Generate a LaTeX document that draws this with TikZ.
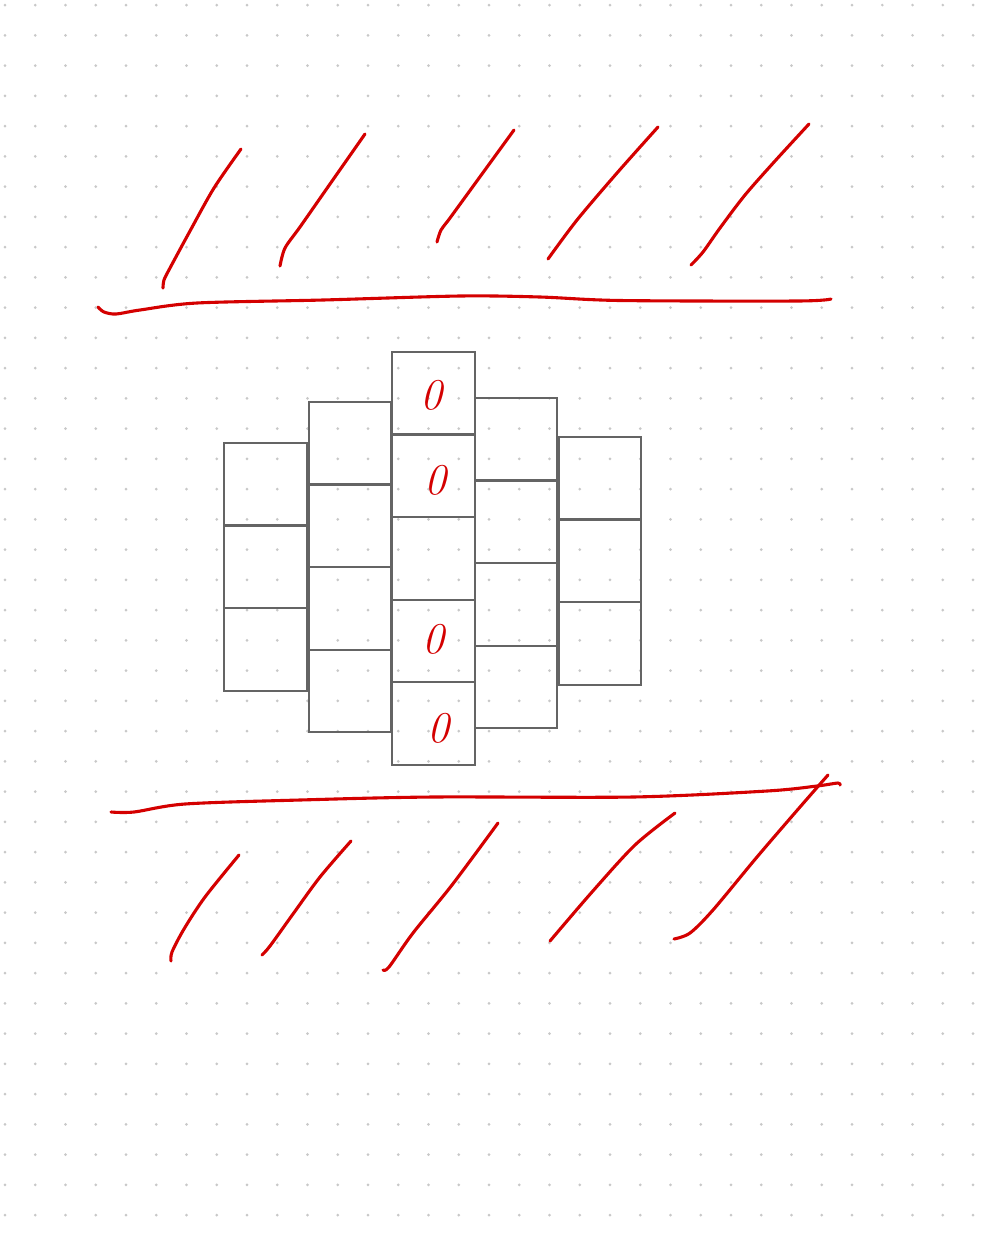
\documentclass[tikz,border=0pt]{standalone}
\usepackage{xcolor}
\usepackage{tikz}
\usetikzlibrary{positioning}
\definecolor{ink}{RGB}{212,0,0}
\definecolor{cellgray}{RGB}{100,100,100}
\definecolor{dotgray}{RGB}{200,200,200}
\tikzset{
x=0.02cm, y=-0.02cm, % one unit is one pixel of the sheet
cell/.style={draw=cellgray, line width=0.045cm, minimum size=1.652cm, inner sep=0pt, outer sep=0pt}, % one square of the block
pen/.style={draw=ink, line width=0.062cm, line cap=round, line join=round}, % the red hand strokes
zero/.style={text=ink, inner sep=0pt, font=\fontsize{25}{25}\selectfont\itshape}, % hand written digits
}

\begin{document}
\begin{tikzpicture}
        % sheet with dots
        \fill[white] (0,0) rectangle (999,1235);
        \useasboundingbox (0,0) rectangle (999,1235);
        \foreach \i in {0,...,32}
            \foreach \j in {0,...,40}
                \fill[dotgray] (5+30.25*\i, 5+30.25*\j) circle (0.03cm);

        % top wall
        \draw[pen] plot[smooth] coordinates {(98,307) (104,312) (116,314) (140,310) (197,303) (323,300) (460,296) (540,297) (620,300.5) (797,301) (831,299)};
        \draw[pen] plot[smooth] coordinates {(163,288) (164,280) (170,268) (190,231) (214,188) (241,149)};
        \draw[pen] plot[smooth] coordinates {(280,266) (285,248) (300,227) (330,184) (365,134)};
        \draw[pen] plot[smooth] coordinates {(437,242) (441,230) (450,218) (482,174) (514,130)};
        \draw[pen] plot[smooth] coordinates {(548,259) (577,220) (617,173) (658,127)};
        \draw[pen] plot[smooth] coordinates {(691,265) (703,252) (720,228) (745,195) (775,161) (809,124)};

        % block of squares
        \node[cell] (c1r1) at (265.5,484.3) {};
        \node[cell, below=0pt of c1r1] (c1r2) {};
        \node[cell, below=0pt of c1r2] (c1r3) {};
        \node[cell] (c2r1) at (350,443.3) {};
        \node[cell, below=0pt of c2r1] (c2r2) {};
        \node[cell, below=0pt of c2r2] (c2r3) {};
        \node[cell, below=0pt of c2r3] (c2r4) {};
        \node[cell] (c3r1) at (433.5,393.3) {};
        \node[cell, below=0pt of c3r1] (c3r2) {};
        \node[cell, below=0pt of c3r2] (c3r3) {};
        \node[cell, below=0pt of c3r3] (c3r4) {};
        \node[cell, below=0pt of c3r4] (c3r5) {};
        \node[cell] (c4r1) at (516,439.3) {};
        \node[cell, below=0pt of c4r1] (c4r2) {};
        \node[cell, below=0pt of c4r2] (c4r3) {};
        \node[cell, below=0pt of c4r3] (c4r4) {};
        \node[cell] (c5r1) at (600,478.3) {};
        \node[cell, below=0pt of c5r1] (c5r2) {};
        \node[cell, below=0pt of c5r2] (c5r3) {};

        \node[zero] (z1) at (431,395) {0};
        \node[zero] (z2) at (435,480) {0};
        \node[zero] (z3) at (433,639) {0};
        \node[zero] (z4) at (438,728) {0};

        % bottom wall
        \draw[pen] plot[smooth] coordinates {(111,812) (134,812) (185,804) (300,800) (433,797) (633,797) (767,791) (817,786) (838,783) (840,785)};
        \draw[pen] plot[smooth] coordinates {(171,961) (172,952) (184,929) (205,897) (239,855)};
        \draw[pen] plot[smooth] coordinates {(262,955) (270,946) (293,914) (320,877) (351,841)};
        \draw[pen] plot[smooth] coordinates {(383,970) (389,967) (413,933) (452,885) (498,823)};
        \draw[pen] plot[smooth] coordinates {(550,941) (592,892) (635,845) (675,813)};
        \draw[pen] plot[smooth] coordinates {(674,939) (690,933) (713,910) (757,857) (800,807) (828,775)};
\end{tikzpicture}
\end{document}
